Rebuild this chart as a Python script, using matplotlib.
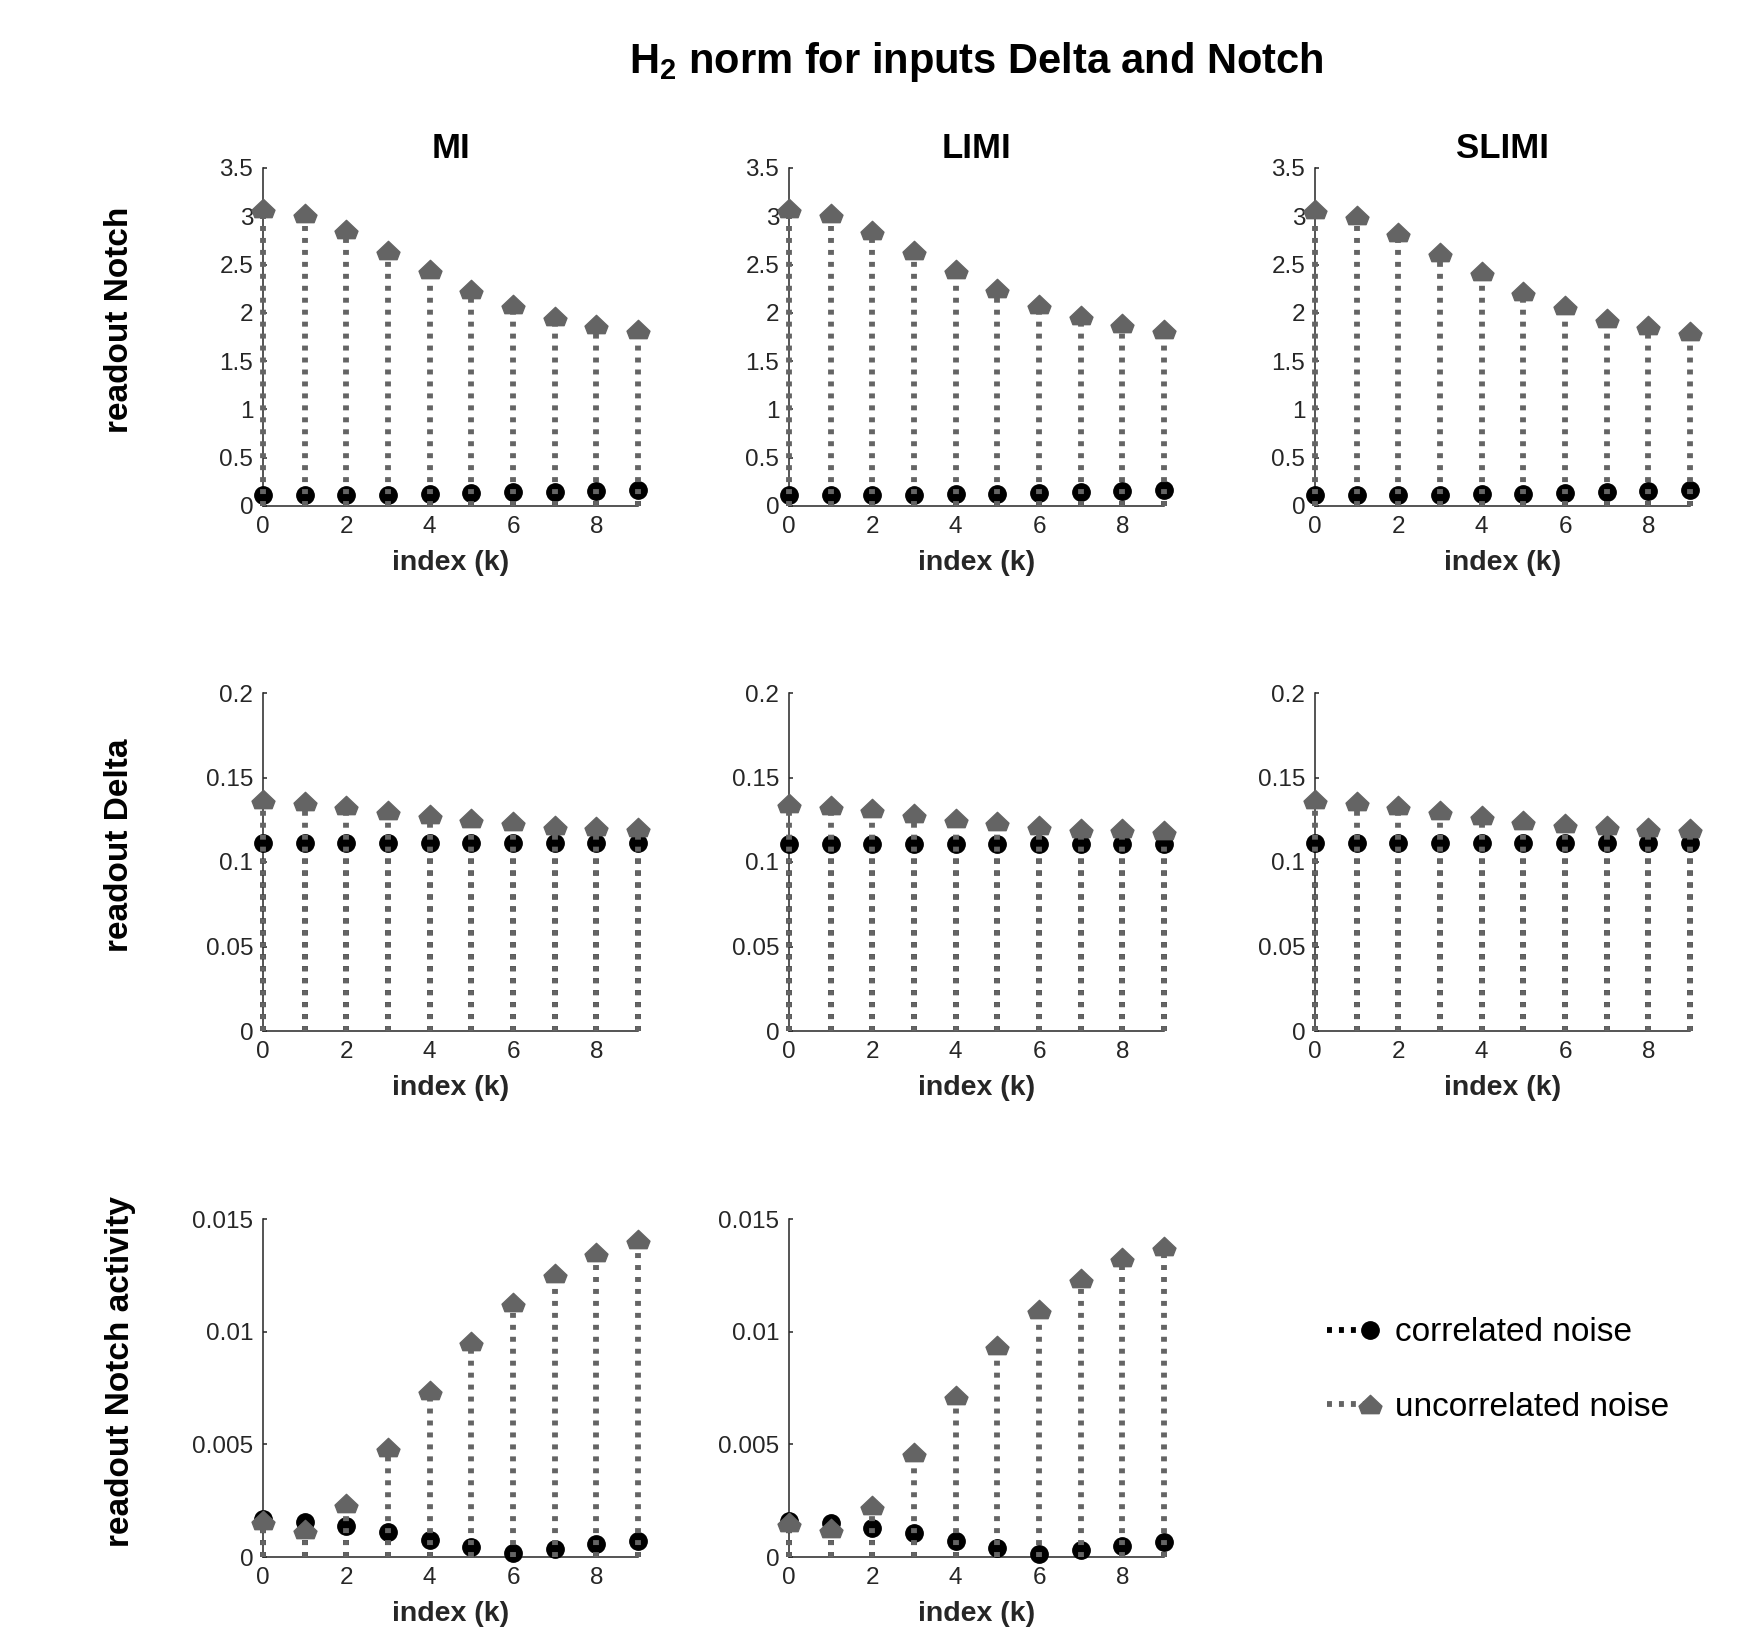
import numpy as np
import matplotlib
matplotlib.use("Agg")
import matplotlib.pyplot as plt
from matplotlib.path import Path
from matplotlib.lines import Line2D
from matplotlib.legend_handler import HandlerBase
from matplotlib.ticker import FuncFormatter

plt.rcParams['font.family'] = ['Liberation Sans', 'DejaVu Sans']
plt.rcParams['mathtext.fontset'] = 'custom'
plt.rcParams['mathtext.rm'] = 'Liberation Sans:bold'
plt.rcParams['mathtext.bf'] = 'Liberation Sans:bold'
plt.rcParams['mathtext.default'] = 'bf'

# ---------------- data ----------------
k = np.arange(10)
col_titles = ["MI", "LIMI", "SLIMI"]
row_labels = ["readout Notch", "readout Delta", "readout Notch activity"]
legend_labels = ["correlated noise", "uncorrelated noise"]

# readout Notch
notch_corr_MI = [0.114, 0.114, 0.115, 0.118, 0.121, 0.13, 0.14, 0.149, 0.159, 0.166]
notch_unc_MI = [3.086, 3.03, 2.87, 2.65, 2.45, 2.25, 2.09, 1.97, 1.88, 1.83]
notch_corr_LIMI = [0.112, 0.112, 0.113, 0.117, 0.12, 0.128, 0.138, 0.147, 0.157, 0.164]
notch_unc_LIMI = [3.09, 3.03, 2.86, 2.65, 2.45, 2.26, 2.09, 1.98, 1.89, 1.83]
notch_corr_SLIMI = [0.112, 0.112, 0.113, 0.117, 0.12, 0.128, 0.138, 0.147, 0.157, 0.164]
notch_unc_SLIMI = [3.08, 3.01, 2.84, 2.63, 2.43, 2.23, 2.08, 1.95, 1.87, 1.81]

# readout Delta
delta_corr_MI = [0.1114] * 10
delta_unc_MI = [0.137, 0.136, 0.134, 0.131, 0.1286, 0.126, 0.124, 0.122, 0.1214, 0.1206]
delta_corr_LIMI = [0.1105] * 10
delta_unc_LIMI = [0.135, 0.134, 0.132, 0.129, 0.126, 0.124, 0.122, 0.120, 0.120, 0.119]
delta_corr_SLIMI = [0.111] * 10
delta_unc_SLIMI = [0.137, 0.136, 0.134, 0.131, 0.128, 0.125, 0.123, 0.122, 0.121, 0.120]

# readout Notch activity
act_corr_MI = [0.00167, 0.00157, 0.00138, 0.00111, 0.00074, 0.00044, 0.00019, 0.00037, 0.00056, 0.00071]
act_unc_MI = [0.00163, 0.00126, 0.00241, 0.00486, 0.0074, 0.0096, 0.0113, 0.0126, 0.01353, 0.0141]
act_corr_LIMI = [0.0016, 0.0015, 0.0013, 0.00105, 0.0007, 0.0004, 0.00015, 0.0003, 0.0005, 0.00068]
act_unc_LIMI = [0.00155, 0.0013, 0.0023, 0.00465, 0.0072, 0.0094, 0.011, 0.0124, 0.0133, 0.0138]

panels = {
    (0, 0): (notch_corr_MI, notch_unc_MI),
    (0, 1): (notch_corr_LIMI, notch_unc_LIMI),
    (0, 2): (notch_corr_SLIMI, notch_unc_SLIMI),
    (1, 0): (delta_corr_MI, delta_unc_MI),
    (1, 1): (delta_corr_LIMI, delta_unc_LIMI),
    (1, 2): (delta_corr_SLIMI, delta_unc_SLIMI),
    (2, 0): (act_corr_MI, act_unc_MI),
    (2, 1): (act_corr_LIMI, act_unc_LIMI),
}
row_ylim = [3.5, 0.2, 0.015]
row_yticks = [np.arange(0, 3.51, 0.5), np.arange(0, 0.201, 0.05), np.arange(0, 0.0151, 0.005)]

# ---------------- styles ----------------
GRAY = '#646464'
TXT = '#262626'
STEM_LW = 4.2
DASH = (0, (0.85, 1.2))
house = Path([(0, 0.8), (1, -0.15), (0.75, -0.8), (-0.75, -0.8), (-1, -0.15), (0, 0.8)],
             [Path.MOVETO, Path.LINETO, Path.LINETO, Path.LINETO, Path.LINETO, Path.CLOSEPOLY])
CIRC_MS = 12.5
HOUSE_MS = 16.5

W, H = 1763, 1650
fig = plt.figure(figsize=(W / 100, H / 100), dpi=100)

col_left = [263, 789, 1315]
row_top = [168, 693, 1219]
ax_w, ax_h = 375, 338

def fmt(v, pos):
    return '%g' % round(v, 6)

def draw_series(ax, y, color, zs, zm, marker, ms):
    s = ax.stem(k, y, basefmt=' ')
    s.stemlines.set_linewidth(STEM_LW)
    s.stemlines.set_linestyle(DASH)
    s.stemlines.set_color(color)
    s.stemlines.set_capstyle('butt')
    s.stemlines.set_zorder(zs)
    s.stemlines.set_clip_on(False)
    s.markerline.set(marker=marker, markersize=ms, color=color, markerfacecolor=color,
                     markeredgecolor=color, markeredgewidth=1.0, zorder=zm, clip_on=False,
                     linestyle='None')
    s.baseline.set_visible(False)

for (r, c), (yc, yu) in panels.items():
    ax = fig.add_axes([col_left[c] / W, 1 - (row_top[r] + ax_h) / H, ax_w / W, ax_h / H])
    draw_series(ax, yc, 'black', 2, 3, 'o', CIRC_MS)
    draw_series(ax, yu, GRAY, 4, 5, house, HOUSE_MS)

    ax.set_xlim(0, 9)
    ax.set_ylim(0, row_ylim[r])
    ax.set_xticks([0, 2, 4, 6, 8])
    ax.set_yticks(row_yticks[r])
    ax.yaxis.set_major_formatter(FuncFormatter(fmt))
    for sp in ['top', 'right']:
        ax.spines[sp].set_visible(False)
    for sp in ['left', 'bottom']:
        ax.spines[sp].set_color(TXT)
        ax.spines[sp].set_linewidth(1.1)
        ax.spines[sp].set_zorder(1)
    ax.tick_params(direction='in', length=3, width=1.1, color=TXT, labelcolor=TXT,
                   labelsize=17.5)
    ax.tick_params(axis='y', pad=7)
    ax.tick_params(axis='x', pad=7)
    ax.set_xlabel('index (k)', fontsize=20.5, fontweight='bold', color=TXT, labelpad=9)
    if r == 0:
        ax.set_title(col_titles[c], fontsize=25, fontweight='bold', pad=7)
    if c == 0:
        ax.set_ylabel(row_labels[r], fontsize=24, fontweight='bold', color='black')
        ax.yaxis.set_label_coords(-0.34, 0.55)
    ax.set_facecolor('none')

fig.text(976 / W, 1 - 62 / H, r'H$_{2}$ norm for inputs Delta and Notch', ha='center', va='center',
         fontsize=30, fontweight='bold')

# legend
class StemHandler(HandlerBase):
    def create_artists(self, legend, orig, xdescent, ydescent, width, height, fontsize, trans):
        y = height / 2 - ydescent
        ln = Line2D([-xdescent, -xdescent + width - 3], [y, y], color=orig.get_color(),
                    linestyle=DASH, linewidth=STEM_LW, dash_capstyle='butt', transform=trans)
        mk = Line2D([-xdescent + width - 4], [y], marker=orig.get_marker(), markersize=orig.get_markersize(),
                    color=orig.get_color(), linestyle='None', transform=trans)
        return [ln, mk]

h1 = Line2D([], [], color='black', marker='o', markersize=CIRC_MS)
h2 = Line2D([], [], color=GRAY, marker=house, markersize=HOUSE_MS)
fig.legend([h1, h2], legend_labels, handler_map={Line2D: StemHandler()},
           loc='center left', bbox_to_anchor=(1327 / W, 1 - 1370 / H), frameon=False,
           borderpad=0, borderaxespad=0, handlelength=1.45, handletextpad=0.6,
           labelspacing=1.3, fontsize=24)

fig.savefig('out.png', dpi=100)
